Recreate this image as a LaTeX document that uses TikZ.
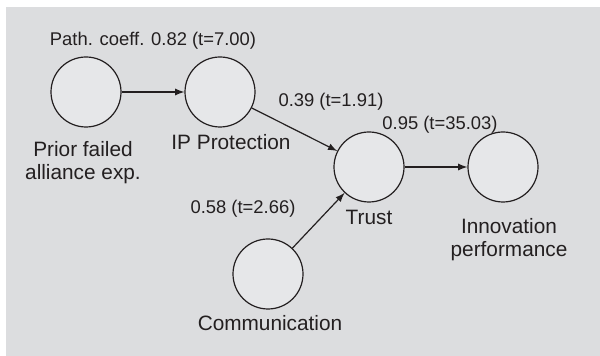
\documentclass[tikz,border=0pt]{standalone}
\usepackage{fontspec}
\setmainfont{Liberation Sans}
\usepackage{tikz}
\usetikzlibrary{arrows,positioning}

\definecolor{panelgray}{RGB}{220,221,223}
\definecolor{circlegray}{RGB}{230,231,233}
\definecolor{inkgray}{RGB}{35,31,32}

\begin{document}
\begin{tikzpicture}[x=0.5pt,y=-0.5pt,color=inkgray,
    construct/.style={circle,draw=inkgray,fill=circlegray,line width=0.6pt,minimum size=35pt,inner sep=0pt},
    constructname/.style={align=center,inner sep=0pt,font=\fontsize{10.4}{11.7}\selectfont},
    coefftxt/.style={inner sep=0pt,font=\fontsize{9.2}{11}\selectfont},
    effect/.style={-latex,line width=0.6pt}]

\useasboundingbox (0,0) rectangle (600,356);
\fill [panelgray] (6,7) rectangle (600,356);

% constructs
\node (n-prior) [construct] at (86,92) {};
\node (n-ip) [construct] at (220,92) {};
\node (n-trust) [construct] at (369,167) {};
\node (n-innov) [construct] at (503,167) {};
\node (n-comm) [construct] at (268,274) {};

\node (t-prior) [constructname,below=6.5pt of n-prior,xshift=-1.5pt] {Prior failed\\alliance exp.};
\node (t-ip) [constructname,below=3pt of n-ip,xshift=5.5pt] {IP Protection};
\node (t-trust) [constructname,below=3.5pt of n-trust] {Trust};
\node (t-innov) [constructname,below=7.5pt of n-innov,xshift=3pt] {Innovation\\performance};
\node (t-comm) [constructname,below=2.5pt of n-comm,xshift=1pt] {Communication};

% paths
\draw [effect] (n-prior) -- (n-ip);
\draw [effect] (n-ip) -- (n-trust);
\draw [effect] (n-comm) -- (n-trust);
\draw [effect] (n-trust) -- (n-innov);

\node (c-prior) [coefftxt] at (153,41) {Path. coeff. 0.82 (t=7.00)};
\node (c-ip) [coefftxt] at (331,102) {0.39 (t=1.91)};
\node (c-trust) [coefftxt] at (440,125) {0.95 (t=35.03)};
\node (c-comm) [coefftxt] at (243,209) {0.58 (t=2.66)};

\end{tikzpicture}
\end{document}
